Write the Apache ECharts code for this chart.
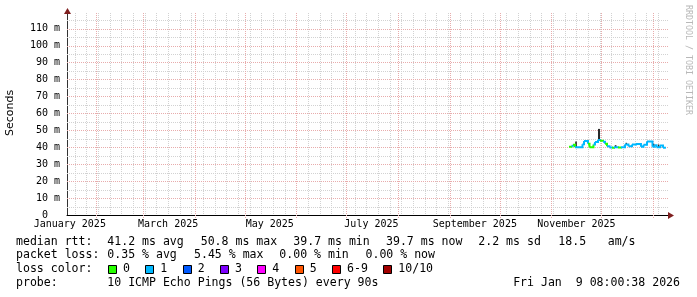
<!DOCTYPE html>
<html><head><meta charset="utf-8">
<script src="https://cdn.jsdelivr.net/npm/echarts@6/dist/echarts.min.js"></script>
<style>html,body{margin:0;padding:0;background:#fff}#c{width:697px;height:297px}</style>
</head><body><div id="c"></div>
<script>
// ---- data ----
const startTime = '2025-01-14T08:00:38Z';
const endTime = '2026-01-09T08:00:38Z';
const yMax = 118;
const yTickValues = [0, 10, 20, 30, 40, 50, 60, 70, 80, 90, 100, 110];

const medianTimes = [
  '2025-11-11T13:00Z','2025-11-13T01:00Z','2025-11-13T22:00Z','2025-11-15T03:00Z',
  '2025-11-19T15:00Z','2025-11-20T13:00Z','2025-11-22T22:00Z','2025-11-23T20:00Z',
  '2025-11-26T05:00Z','2025-11-27T03:00Z','2025-11-28T22:00Z','2025-11-30T03:00Z',
  '2025-12-01T22:00Z','2025-12-03T03:00Z','2025-12-04T08:00Z','2025-12-05T20:00Z',
  '2025-12-07T08:00Z','2025-12-08T13:00Z','2025-12-10T22:00Z','2025-12-12T17:00Z',
  '2025-12-15T03:00Z','2025-12-17T05:00Z','2025-12-19T08:00Z','2025-12-21T17:00Z',
  '2025-12-24T17:00Z','2025-12-26T05:00Z','2025-12-28T08:00Z','2025-12-31T15:00Z',
  '2026-01-01T20:00Z','2026-01-03T01:00Z','2026-01-05T03:00Z','2026-01-06T22:00Z'
];
const medianEnd = '2026-01-08T16:00Z';
const medianRtt = [
  40.3, 40.8, 41.4, 40.0, 41.8, 43.6, 42.0, 40.0,
  41.6, 43.0, 44.3, 43.8, 43.2, 42.0, 40.5, 39.8,
  39.7, 39.9, 39.8, 40.0, 41.6, 40.5, 41.6, 41.9,
  40.2, 41.5, 43.3, 40.2, 41.2, 40.0, 41.0, 39.7
];
const lossCount = [
  0, 1, 0, 1, 1, 1, 0, 0,
  1, 1, 1, 0, 1, 0, 1, 1,
  0, 1, 0, 1, 1, 1, 1, 1,
  1, 1, 1, 1, 1, 1, 1, 1
];

const smokeStart = ['2025-11-15T06:00Z','2025-11-28T22:00Z','2025-12-09T00:00Z','2025-12-15T12:00Z','2025-12-31T22:00Z','2026-01-03T20:00Z'];
const smokeEnd   = ['2025-11-16T06:00Z','2025-11-30T03:00Z','2025-12-10T00:00Z','2025-12-16T06:00Z','2026-01-01T18:00Z','2026-01-04T16:00Z'];
const smokeLow   = [40.0, 44.0, 39.8, 41.6, 40.2, 40.0];
const smokeHigh  = [43.4, 50.8, 41.2, 42.6, 42.0, 41.6];

const monthLabelDates = ['2025-01-16T00:00Z','2025-03-16T00:00Z','2025-05-16T00:00Z','2025-07-16T00:00Z','2025-09-16T00:00Z','2025-11-16T00:00Z'];
const monthLabelTexts = ['January 2025','March 2025','May 2025','July 2025','September 2025','November 2025'];

const lossLabels = ['0','1','2','3','4','5','6-9','10/10'];
const lossColors = ['#26ff00','#00b8ff','#0059ff','#7e00ff','#ff00ff','#ff5500','#ff0000','#a10000'];

const rttTexts  = ['median rtt:', '41.2 ms avg', '50.8 ms max', '39.7 ms min', '39.7 ms now', '2.2 ms sd', '18.5', 'am/s'];
const lossTexts = ['packet loss:', '0.35 % avg', '5.45 % max', '0.00 % min', '0.00 % now'];
const lossTitle = 'loss color:';
const probeTexts = ['probe:', '10 ICMP Echo Pings (56 Bytes) every 90s'];
const stampLine = 'Fri Jan  9 08:00:38 2026';
const yTitle = 'Seconds';
const watermark = 'RRDTOOL / TOBI OETIKER';

// ---- layout (positions only) ----
const rttX  = [16, 107.3, 200.7, 293.3, 386, 478.3, 558.3, 607.7];
const lossX = [16, 107.3, 194, 279.3, 365.5];
const probeX = [16, 107.3];

// ---- build ----
const T0 = Date.parse(startTime), T1 = Date.parse(endTime);
const DAY = 86400000;
const MONO = '"DejaVu Sans Mono", monospace';
const GRID_GRAY = '#d2d2d2', GRID_RED = '#e8acac';

function lossIndex(n) { return n <= 5 ? n : (n < 10 ? 6 : 7); }

const vGrid = [];
for (let t = Math.ceil(T0 / DAY) * DAY; t <= T1; t += DAY) {
  const d = new Date(t);
  if (d.getUTCDate() === 1) vGrid.push([t, 1]);
  else if (d.getUTCDay() === 0) vGrid.push([t, 0]);
}
const hGrid = [];
for (let v = 5; v < yMax; v += 5) hGrid.push([T0, v, v % 10 === 0 ? 1 : 0]);

const medT = medianTimes.map(Date.parse);
const medEndT = Date.parse(medianEnd);
const medData = medT.map((t, i) => [
  t, i + 1 < medT.length ? medT[i + 1] : medEndT,
  medianRtt[i], i + 1 < medT.length ? medianRtt[i + 1] : medianRtt[i],
  lossIndex(lossCount[i])
]);
const smokeData = smokeStart.map((s, i) => [Date.parse(s), Date.parse(smokeEnd[i]), smokeLow[i], smokeHigh[i]]);
const labelMs = monthLabelDates.map(Date.parse);

const chart = echarts.init(document.getElementById('c'), null, {renderer: 'canvas'});
chart.setOption({
  animation: false,
  backgroundColor: '#ffffff',
  grid: {left: 67, top: 15, width: 600, height: 200},
  xAxis: {
    type: 'value', min: T0, max: T1,
    axisLine: {show: true, lineStyle: {color: '#000', width: 1}},
    axisTick: {show: false},
    splitLine: {show: false},
    axisLabel: {
      customValues: labelMs, margin: 4,
      fontFamily: MONO, fontSize: 10, color: '#000',
      formatter: v => {
        let best = 0;
        labelMs.forEach((m, i) => { if (Math.abs(m - v) < Math.abs(labelMs[best] - v)) best = i; });
        return monthLabelTexts[best];
      }
    }
  },
  yAxis: {
    type: 'value', min: 0, max: yMax,
    axisLine: {show: true, lineStyle: {color: '#333', width: 1}},
    axisTick: {show: false},
    splitLine: {show: false},
    axisLabel: {
      customValues: yTickValues, margin: 7,
      fontFamily: MONO, fontSize: 10, color: '#000',
      formatter: v => v === 0 ? '0\u00a0\u00a0' : v + ' m'
    }
  },
  series: [
    {
      type: 'custom', name: 'vgrid', silent: true, clip: false, z: 1,
      data: vGrid, encode: {x: 0},
      renderItem: (p, api) => {
        const t = api.value(0), major = api.value(1);
        const a = api.coord([t, yMax]), b = api.coord([t, 0]);
        const x = Math.round(a[0]) + 0.5;
        return {type: 'line', silent: true, z2: major ? 2 : 1,
          shape: {x1: x, y1: Math.round(a[1]) - 2, x2: x, y2: Math.round(b[1]) + (major ? 3 : 0)},
          style: {stroke: major ? GRID_RED : GRID_GRAY, lineWidth: 1, lineDash: [1, 1]}};
      }
    },
    {
      type: 'custom', name: 'hgrid', silent: true, clip: false, z: 1,
      data: hGrid, encode: {x: 0, y: 1},
      renderItem: (p, api) => {
        const v = api.value(1), major = api.value(2);
        const a = api.coord([T0, v]), b = api.coord([T1, v]);
        const y = Math.round(a[1]) + 0.5;
        return {type: 'line', silent: true, z2: major ? 2 : 1,
          shape: {x1: Math.round(a[0]), y1: y, x2: Math.round(b[0]) + 1, y2: y},
          style: {stroke: major ? GRID_RED : GRID_GRAY, lineWidth: 1, lineDash: [1, 1]}};
      }
    },
    {
      type: 'custom', name: 'smoke', z: 3,
      data: smokeData, encode: {x: [0, 1], y: [2, 3]},
      renderItem: (p, api) => {
        const a = api.coord([api.value(0), api.value(3)]);
        const b = api.coord([api.value(1), api.value(2)]);
        return {type: 'rect', shape: {x: a[0], y: a[1], width: Math.max(1.5, b[0] - a[0]), height: b[1] - a[1]},
          style: {fill: '#2a2a2a'}};
      }
    },
    {
      type: 'custom', name: 'median rtt', z: 4,
      data: medData, encode: {x: [0, 1], y: [2, 3]},
      renderItem: (p, api) => {
        const t0 = api.value(0), t1 = api.value(1), v0 = api.value(2), v1 = api.value(3);
        const c = lossColors[api.value(4)];
        const a = api.coord([t0, v0]), b = api.coord([t1, v0]), d = api.coord([t1, v1]);
        return {type: 'polyline', shape: {points: [a, b, d]},
          style: {stroke: c, lineWidth: 2, fill: null}};
      }
    }
  ]
});

// ---- decorations (arrows, texts, legend) ----
const pEnd = chart.convertToPixel({gridIndex: 0}, [T1, 0]);
const pTop = chart.convertToPixel({gridIndex: 0}, [T0, yMax]);
const ARROW = '#7f1f1f';
const g = [];
const ax = Math.round(pEnd[0]), ay = Math.round(pEnd[1]) + 0.5;
g.push({type: 'line', shape: {x1: ax, y1: ay, x2: ax + 3, y2: ay}, style: {stroke: '#000', lineWidth: 1}});
g.push({type: 'polygon', shape: {points: [[ax + 1, ay - 3.5], [ax + 7, ay], [ax + 1, ay + 3.5]]}, style: {fill: ARROW}});
const yx = Math.round(pTop[0]) + 0.5, yy = Math.round(pTop[1]);
g.push({type: 'line', shape: {x1: yx, y1: yy, x2: yx, y2: yy - 3}, style: {stroke: '#333', lineWidth: 1}});
g.push({type: 'polygon', shape: {points: [[yx - 3.5, yy - 1], [yx, yy - 7], [yx + 3.5, yy - 1]]}, style: {fill: ARROW}});

const CW = 6.95, FS = 11.55;
const FONT = FS + 'px ' + MONO;
const rowY = [241.7, 255.2, 269.3, 282.9];
function txt(s, x, y, align) {
  g.push({type: 'text', style: {text: s, x: x, y: y, font: FONT, fill: '#000', align: align || 'left', verticalAlign: 'middle'}});
}
rttTexts.forEach((s, i) => txt(s, rttX[i], rowY[0]));
lossTexts.forEach((s, i) => txt(s, lossX[i], rowY[1]));
txt(lossTitle, 16, rowY[2]);
let bx = 16 + 13 * CW + 1.6;
lossLabels.forEach((lab, i) => {
  g.push({type: 'rect', shape: {x: Math.round(bx) + 0.5, y: 265.5, width: 8, height: 8}, style: {fill: lossColors[i], stroke: '#000', lineWidth: 1}});
  txt(lab, bx + 15, rowY[2]);
  bx += 15 + lab.length * CW + 15.4;
});
probeTexts.forEach((s, i) => txt(s, probeX[i], rowY[3]));
txt(stampLine, 680, rowY[3], 'right');
g.push({type: 'text', x: 10, y: 113, rotation: Math.PI / 2,
  style: {text: yTitle, x: 0, y: 0, font: '11px "DejaVu Sans", sans-serif', fill: '#000', align: 'center', verticalAlign: 'middle'}});
g.push({type: 'text', x: 688, y: 60, rotation: -Math.PI / 2,
  style: {text: watermark, x: 0, y: 0, font: '8.3px ' + MONO, fill: '#b8b8b8', align: 'center', verticalAlign: 'middle'}});
chart.setOption({graphic: g});
</script>
</body></html>
